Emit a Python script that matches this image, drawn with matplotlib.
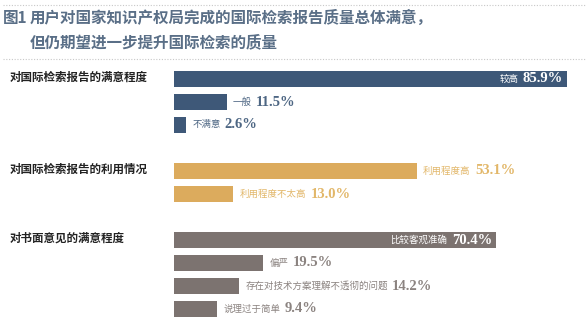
import matplotlib.pyplot as plt
import matplotlib.transforms as mtransforms
from matplotlib.lines import Line2D

plt.rcParams['font.family'] = ['Noto Sans CJK SC', 'DejaVu Sans']

# data
groups = ['对国际检索报告的满意程度', '对国际检索报告的利用情况', '对书面意见的满意程度']
cats = [['较高', '一般', '不满意'],
        ['利用程度高', '利用程度不太高'],
        ['比较客观准确', '偏严', '存在对技术方案理解不透彻的问题', '说理过于简单']]
vals = [[85.9, 11.5, 2.6],
        [53.1, 13.0],
        [70.4, 19.5, 14.2, 9.4]]
inside_first = [True, False, True]

bar_colors = ['#3e5878', '#dcab5d', '#7c7370']
text_colors = ['#4d6683', '#e2b769', '#8b8380']

W, H = 588, 324
fig = plt.figure(figsize=(W / 100, H / 100), dpi=100)
fig.patch.set_facecolor('white')

# bar area: 1 % = 4.575 px, bars start at x = 174 px
left = 174
ax = fig.add_axes([left / W, 0, 90 * 4.575 / W, 1])
ax.set_xlim(0, 90)
ax.set_ylim((H - 79) / 23, -79 / 23)  # row r centred at 79 + 23 r px
ax.axis('off')

# title block
fig.add_artist(Line2D([0.005, 0.995], [1 - 5 / H, 1 - 5 / H], color='#c8c8c8',
                      lw=0.8, ls=(0, (1, 1.5))))
fig.add_artist(Line2D([0.005, 0.995], [1 - 59 / H, 1 - 59 / H], color='#c8c8c8',
                      lw=0.8, ls=(0, (1, 1.5))))
tcol = '#5a6f87'
fig.text(3 / W, 1 - 18 / H, '图1', fontsize=11.2, fontweight='bold', color=tcol,
         va='center', ha='left')
fig.text(30 / W, 1 - 18 / H, '用户对国家知识产权局完成的国际检索报告质量总体满意，',
         fontsize=11.2, fontweight='bold', color=tcol, va='center', ha='left')
fig.text(30 / W, 1 - 42 / H, '但仍期望进一步提升国际检索的质量',
         fontsize=11.2, fontweight='bold', color=tcol, va='center', ha='left')

lab_tr = mtransforms.blended_transform_factory(fig.transFigure, ax.transData)
num_font = dict(family='Liberation Serif', fontweight='bold', fontsize=10.5)

row = 0
for g, (name, cs, vs) in enumerate(zip(groups, cats, vals)):
    ax.text(10 / W, row - 0.08, name, transform=lab_tr, fontsize=8.3,
            fontweight='bold', color='#222222', va='center', ha='left')
    ys = [row + i for i in range(len(vs))]
    ax.barh(ys, vs, height=0.73, left=0, color=bar_colors[g], edgecolor='none')
    for i, (c, v, y) in enumerate(zip(cs, vs, ys)):
        if i == 0 and inside_first[g]:
            num = ax.annotate(f'{v:.1f}%', xy=(v, y), xytext=(-3, 0),
                              textcoords='offset points', ha='right', va='center',
                              color='white', **num_font)
            ax.annotate(c, xy=(0, 0.5), xycoords=num, xytext=(-3, 0),
                        textcoords='offset points', ha='right', va='center',
                        color='white', fontsize=6.8)
        else:
            cat = ax.annotate(c, xy=(v, y), xytext=(4.5, 0),
                              textcoords='offset points', ha='left', va='center',
                              color=text_colors[g], fontsize=6.8)
            ax.annotate(f'{v:.1f}%', xy=(1, 0.5), xycoords=cat, xytext=(3, 0),
                        textcoords='offset points', ha='left', va='center',
                        color=text_colors[g], **num_font)
    row += len(vs) + 1

fig.savefig('out.png', dpi=100, facecolor='white')
